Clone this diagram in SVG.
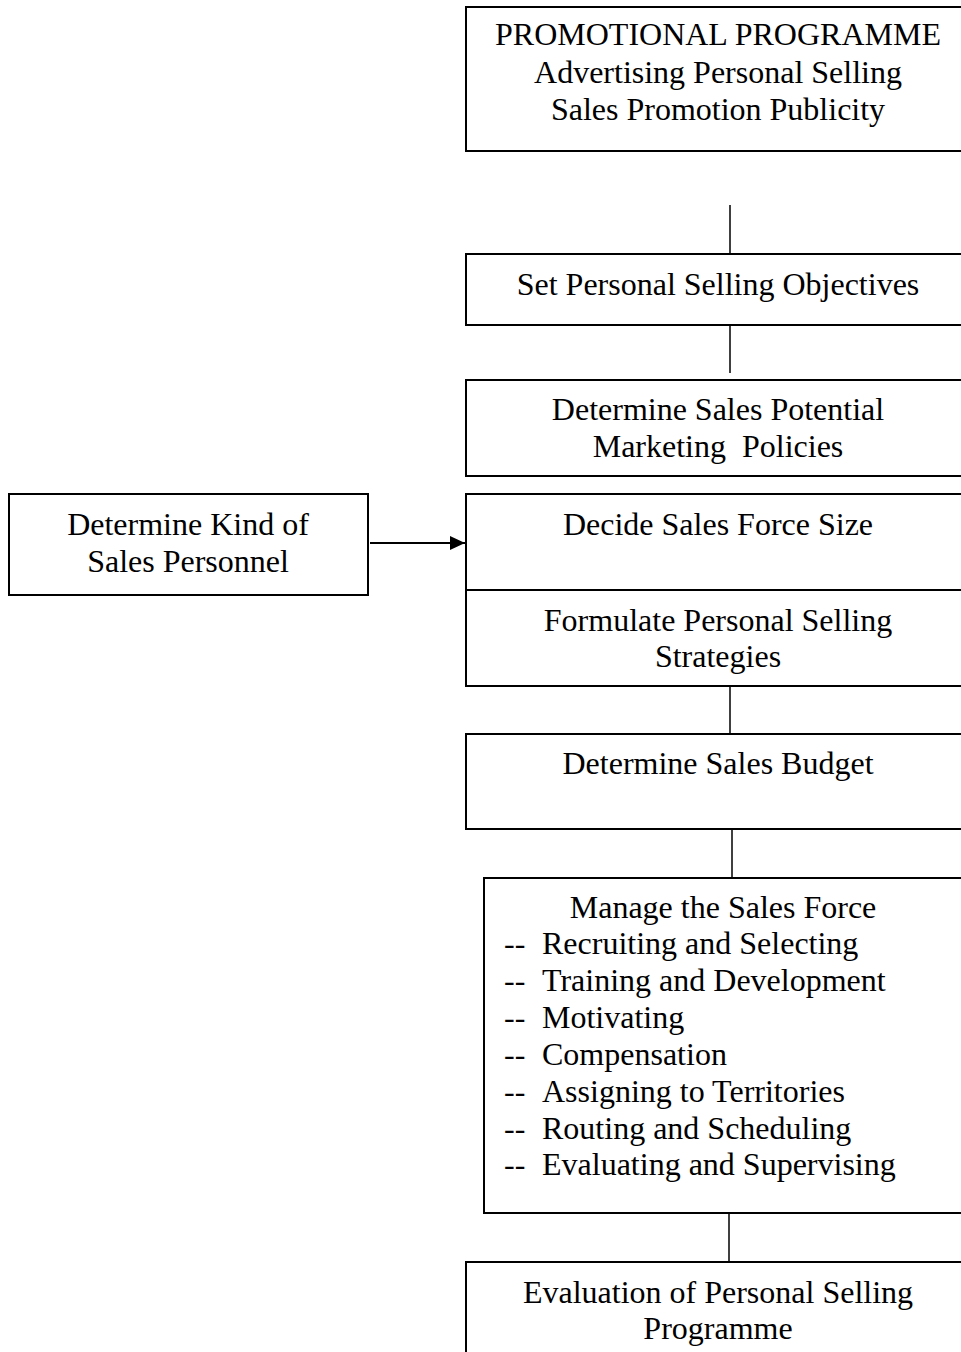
<svg xmlns="http://www.w3.org/2000/svg" width="961" height="1352" viewBox="0 0 961 1352">
<defs>
<style>
.box{fill:#fff;stroke:#000;stroke-width:2}
.ln{stroke:#000;stroke-width:1.5;fill:none}
.ar{stroke:#000;stroke-width:2;fill:none}
text{font-family:"Liberation Serif","Times New Roman",serif;font-size:32px;fill:#000}
.c{text-anchor:middle}
</style>
<marker id="ah" markerWidth="15" markerHeight="14" refX="15" refY="7" orient="auto" markerUnits="userSpaceOnUse">
<path d="M0,0 L15,7 L0,14 Z" fill="#000"/>
</marker>
</defs>
<rect width="961" height="1352" fill="#fff"/>
<g id="connectors">
<line class="ln" x1="730" y1="205" x2="730" y2="254"/>
<line class="ln" x1="730" y1="325" x2="730" y2="373"/>
<line class="ln" x1="730" y1="686" x2="730" y2="734"/>
<line class="ln" x1="732" y1="829" x2="732" y2="878"/>
<line class="ln" x1="729" y1="1213" x2="729" y2="1262"/>
<line class="ar" x1="370" y1="543" x2="465" y2="543" marker-end="url(#ah)"/>
</g>
<g id="promo">
<rect class="box" x="466" y="7" width="510" height="144"/>
<text class="c" x="718" y="45">PROMOTIONAL PROGRAMME</text>
<text class="c" x="718" y="83">Advertising Personal Selling</text>
<text class="c" x="718" y="120">Sales Promotion Publicity</text>
</g>
<g id="objectives">
<rect class="box" x="466" y="254" width="510" height="71"/>
<text class="c" x="718" y="295">Set Personal Selling Objectives</text>
</g>
<g id="potential">
<rect class="box" x="466" y="380" width="510" height="96"/>
<text class="c" x="718" y="420">Determine Sales Potential</text>
<text class="c" x="718" y="457" xml:space="preserve">Marketing  Policies</text>
</g>
<g id="kind">
<rect class="box" x="9" y="494" width="359" height="101"/>
<text class="c" x="188" y="535">Determine Kind of</text>
<text class="c" x="188" y="572">Sales Personnel</text>
</g>
<g id="size">
<rect class="box" x="466" y="494" width="510" height="96"/>
<text class="c" x="718" y="535">Decide Sales Force Size</text>
</g>
<g id="strategies">
<rect class="box" x="466" y="590" width="510" height="96"/>
<text class="c" x="718" y="631">Formulate Personal Selling</text>
<text class="c" x="718" y="667">Strategies</text>
</g>
<g id="budget">
<rect class="box" x="466" y="734" width="510" height="95"/>
<text class="c" x="718" y="774">Determine Sales Budget</text>
</g>
<g id="manage">
<rect class="box" x="484" y="878" width="492" height="335"/>
<text class="c" x="723" y="918">Manage the Sales Force</text>
<text x="504" y="954">--</text><text x="542" y="954">Recruiting and Selecting</text>
<text x="504" y="991">--</text><text x="542" y="991">Training and Development</text>
<text x="504" y="1028">--</text><text x="542" y="1028">Motivating</text>
<text x="504" y="1065">--</text><text x="542" y="1065">Compensation</text>
<text x="504" y="1102">--</text><text x="542" y="1102">Assigning to Territories</text>
<text x="504" y="1139">--</text><text x="542" y="1139">Routing and Scheduling</text>
<text x="504" y="1175">--</text><text x="542" y="1175">Evaluating and Supervising</text>
</g>
<g id="evaluation">
<rect class="box" x="466" y="1262" width="510" height="100"/>
<text class="c" x="718" y="1303">Evaluation of Personal Selling</text>
<text class="c" x="718" y="1339">Programme</text>
</g>
</svg>
